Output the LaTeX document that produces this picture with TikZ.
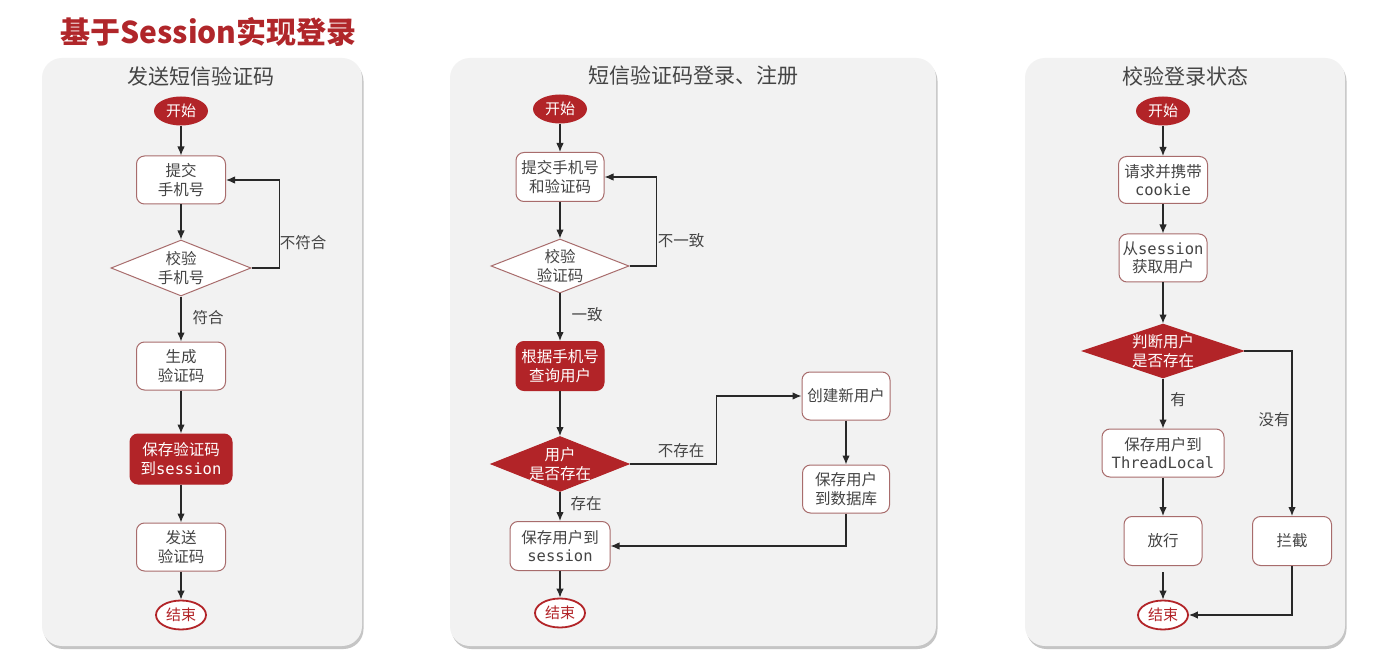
\documentclass[tikz,border=0pt]{standalone}
\usepackage{fontspec}
\setmainfont{Noto Sans CJK SC}
\newfontfamily\mono{DejaVu Sans Mono}
\usetikzlibrary{shapes.geometric,arrows.meta,shadows}
\definecolor{redfill}{RGB}{178,36,40}
\definecolor{titlered}{RGB}{176,38,42}
\definecolor{boxline}{RGB}{168,108,108}
\definecolor{panelbg}{RGB}{242,242,242}
\definecolor{txtgray}{RGB}{68,68,68}
\definecolor{linegray}{RGB}{40,40,40}
\tikzset{
  txt/.style={font=\fontsize{15.5}{18.5}\selectfont, text=txtgray, align=center},
  panel/.style={fill=panelbg, rounded corners=20pt, drop shadow={shadow xshift=1.5pt, shadow yshift=-3pt, fill=black!45, opacity=0.5}},
  ptitle/.style={font=\fontsize{21}{25}\selectfont, text=txtgray},
  wbox/.style={txt, draw=boxline, line width=1pt, fill=white, rounded corners=8pt, inner sep=0pt, minimum width=89pt, minimum height=48pt},
  rbox/.style={wbox, fill=redfill, draw=redfill, text=white},
  wdia/.style={diamond, draw=boxline, line width=1pt, fill=white, inner sep=0pt, aspect=2.5},
  rdia/.style={wdia, fill=redfill, draw=redfill},
  startnode/.style={ellipse, fill=redfill, text=white, inner sep=0pt, minimum width=54pt, minimum height=29pt, font=\fontsize{15}{18}\selectfont},
  endnode/.style={ellipse, draw=redfill, line width=1.8pt, fill=white, text=redfill, inner sep=0pt, minimum width=50pt, minimum height=29pt, font=\fontsize{15}{18}\selectfont},
  arr/.style={draw=linegray, line width=1.2pt, -{Latex[length=9pt,width=7.5pt]}},
  elab/.style={txt}
}
\begin{document}
\begin{tikzpicture}[x=1pt,y=-1pt]
\useasboundingbox (0,0) rectangle (1382,663);
\fill[white] (0,0) rectangle (1382,663);
% title
\node[font=\fontsize{30}{34}\selectfont\bfseries, text=titlered, anchor=west] (title) at (57,32) {基于Session实现登录};
% panels
\path[panel] (42,58) rectangle (362,646);
\path[panel] (450,58) rectangle (936,646);
\path[panel] (1025,58) rectangle (1345,646);
\node[ptitle] (t1) at (201,76) {发送短信验证码};
\node[ptitle] (t2) at (693,76) {短信验证码登录、注册};
\node[ptitle] (t3) at (1185,76) {校验登录状态};

% ---------- Panel 1 ----------
\node[startnode] (s1) at (181,111) {开始};
\node[wbox] (b1) at (181,180) {提交\\手机号};
\node[wdia, minimum width=140pt, minimum height=56pt, label={[txt]center:校验\\手机号}] (d1) at (181,268) {};
\node[wbox] (b2) at (181,366) {生成\\验证码};
\node[rbox, minimum width=102pt, minimum height=50pt] (b3) at (181,459) {保存验证码\\到{\mono session}};
\node[wbox] (b4) at (181,547) {发送\\验证码};
\node[endnode] (e1) at (181,615) {结束};
\draw[arr] (s1) -- (b1);
\draw[arr] (b1) -- (d1);
\draw[arr] (d1) -- (b2);
\draw[arr] (b2) -- (b3);
\draw[arr] (b3) -- (b4);
\draw[arr] (b4) -- (e1);
\draw[arr] (d1.east) -- ++(28,0) |- (b1.east);
\node[elab] (l1) at (303,243) {不符合};
\node[elab] (l2) at (208,318) {符合};

% ---------- Panel 2 ----------
\node[startnode] (s2) at (560,109) {开始};
\node[wbox, minimum width=88pt, minimum height=49pt] (c1) at (560,177) {提交手机号\\和验证码};
\node[wdia, minimum width=138pt, minimum height=54pt, label={[txt]center:校验\\验证码}] (d2) at (560,266) {};
\node[rbox, minimum width=88pt, minimum height=49pt] (c2) at (560,366) {根据手机号\\查询用户};
\node[rdia, minimum width=138pt, minimum height=55pt, label={[txt,text=white]center:用户\\是否存在}] (d3) at (560,464) {};
\node[wbox, minimum width=88pt] (n1) at (846,396) {创建新用户};
\node[wbox, minimum width=87pt] (n2) at (846,489) {保存用户\\到数据库};
\node[wbox, minimum width=100pt, minimum height=49pt] (c3) at (560,546) {保存用户到\\{\mono session}};
\node[endnode] (e2) at (560,613) {结束};
\draw[arr] (s2) -- (c1);
\draw[arr] (c1) -- (d2);
\draw[arr] (d2) -- (c2);
\draw[arr] (c2) -- (d3);
\draw[arr] (d3) -- (c3);
\draw[arr] (c3) -- (e2);
\draw[arr] (d2.east) -- ++(27,0) |- (c1.east);
\draw[arr] (d3.east) -- ++(87,0) |- (n1.west);
\draw[arr] (n1) -- (n2);
\draw[arr] (n2.south) |- (c3.east);
\node[elab] (l3) at (681,241) {不一致};
\node[elab] (l4) at (587,315) {一致};
\node[elab] (l5) at (681,451) {不存在};
\node[elab] (l6) at (586,504) {存在};

% ---------- Panel 3 ----------
\node[startnode] (s3) at (1163,111) {开始};
\node[wbox, minimum height=47pt] (q1) at (1163,180) {请求并携带\\{\mono cookie}};
\node[wbox, minimum width=88pt] (q2) at (1163,258) {从{\mono session}\\获取用户};
\node[rdia, minimum width=161pt, minimum height=54pt, label={[txt,text=white]center:判断用户\\是否存在}] (d5) at (1163,351) {};
\node[wbox, minimum width=122pt] (q3) at (1163,453) {保存用户到\\{\mono ThreadLocal}};
\node[wbox, minimum width=78pt, minimum height=49pt] (q4) at (1163,541) {放行};
\node[wbox, minimum width=79pt, minimum height=49pt] (r2) at (1292,541) {拦截};
\node[endnode] (e3) at (1163,615) {结束};
\draw[arr] (s3) -- (q1);
\draw[arr] (q1) -- (q2);
\draw[arr] (q2) -- (d5);
\draw[arr] (d5) -- (q3);
\draw[arr] (q3) -- (q4);
\draw[arr, shorten <=6pt] (q4) -- (e3);
\draw[arr] (d5.east) -| (r2.north);
\draw[arr] (r2.south) |- (e3.east);
\node[elab] (l7) at (1178,400) {有};
\node[elab] (l8) at (1274,420) {没有};
\end{tikzpicture}
\end{document}
